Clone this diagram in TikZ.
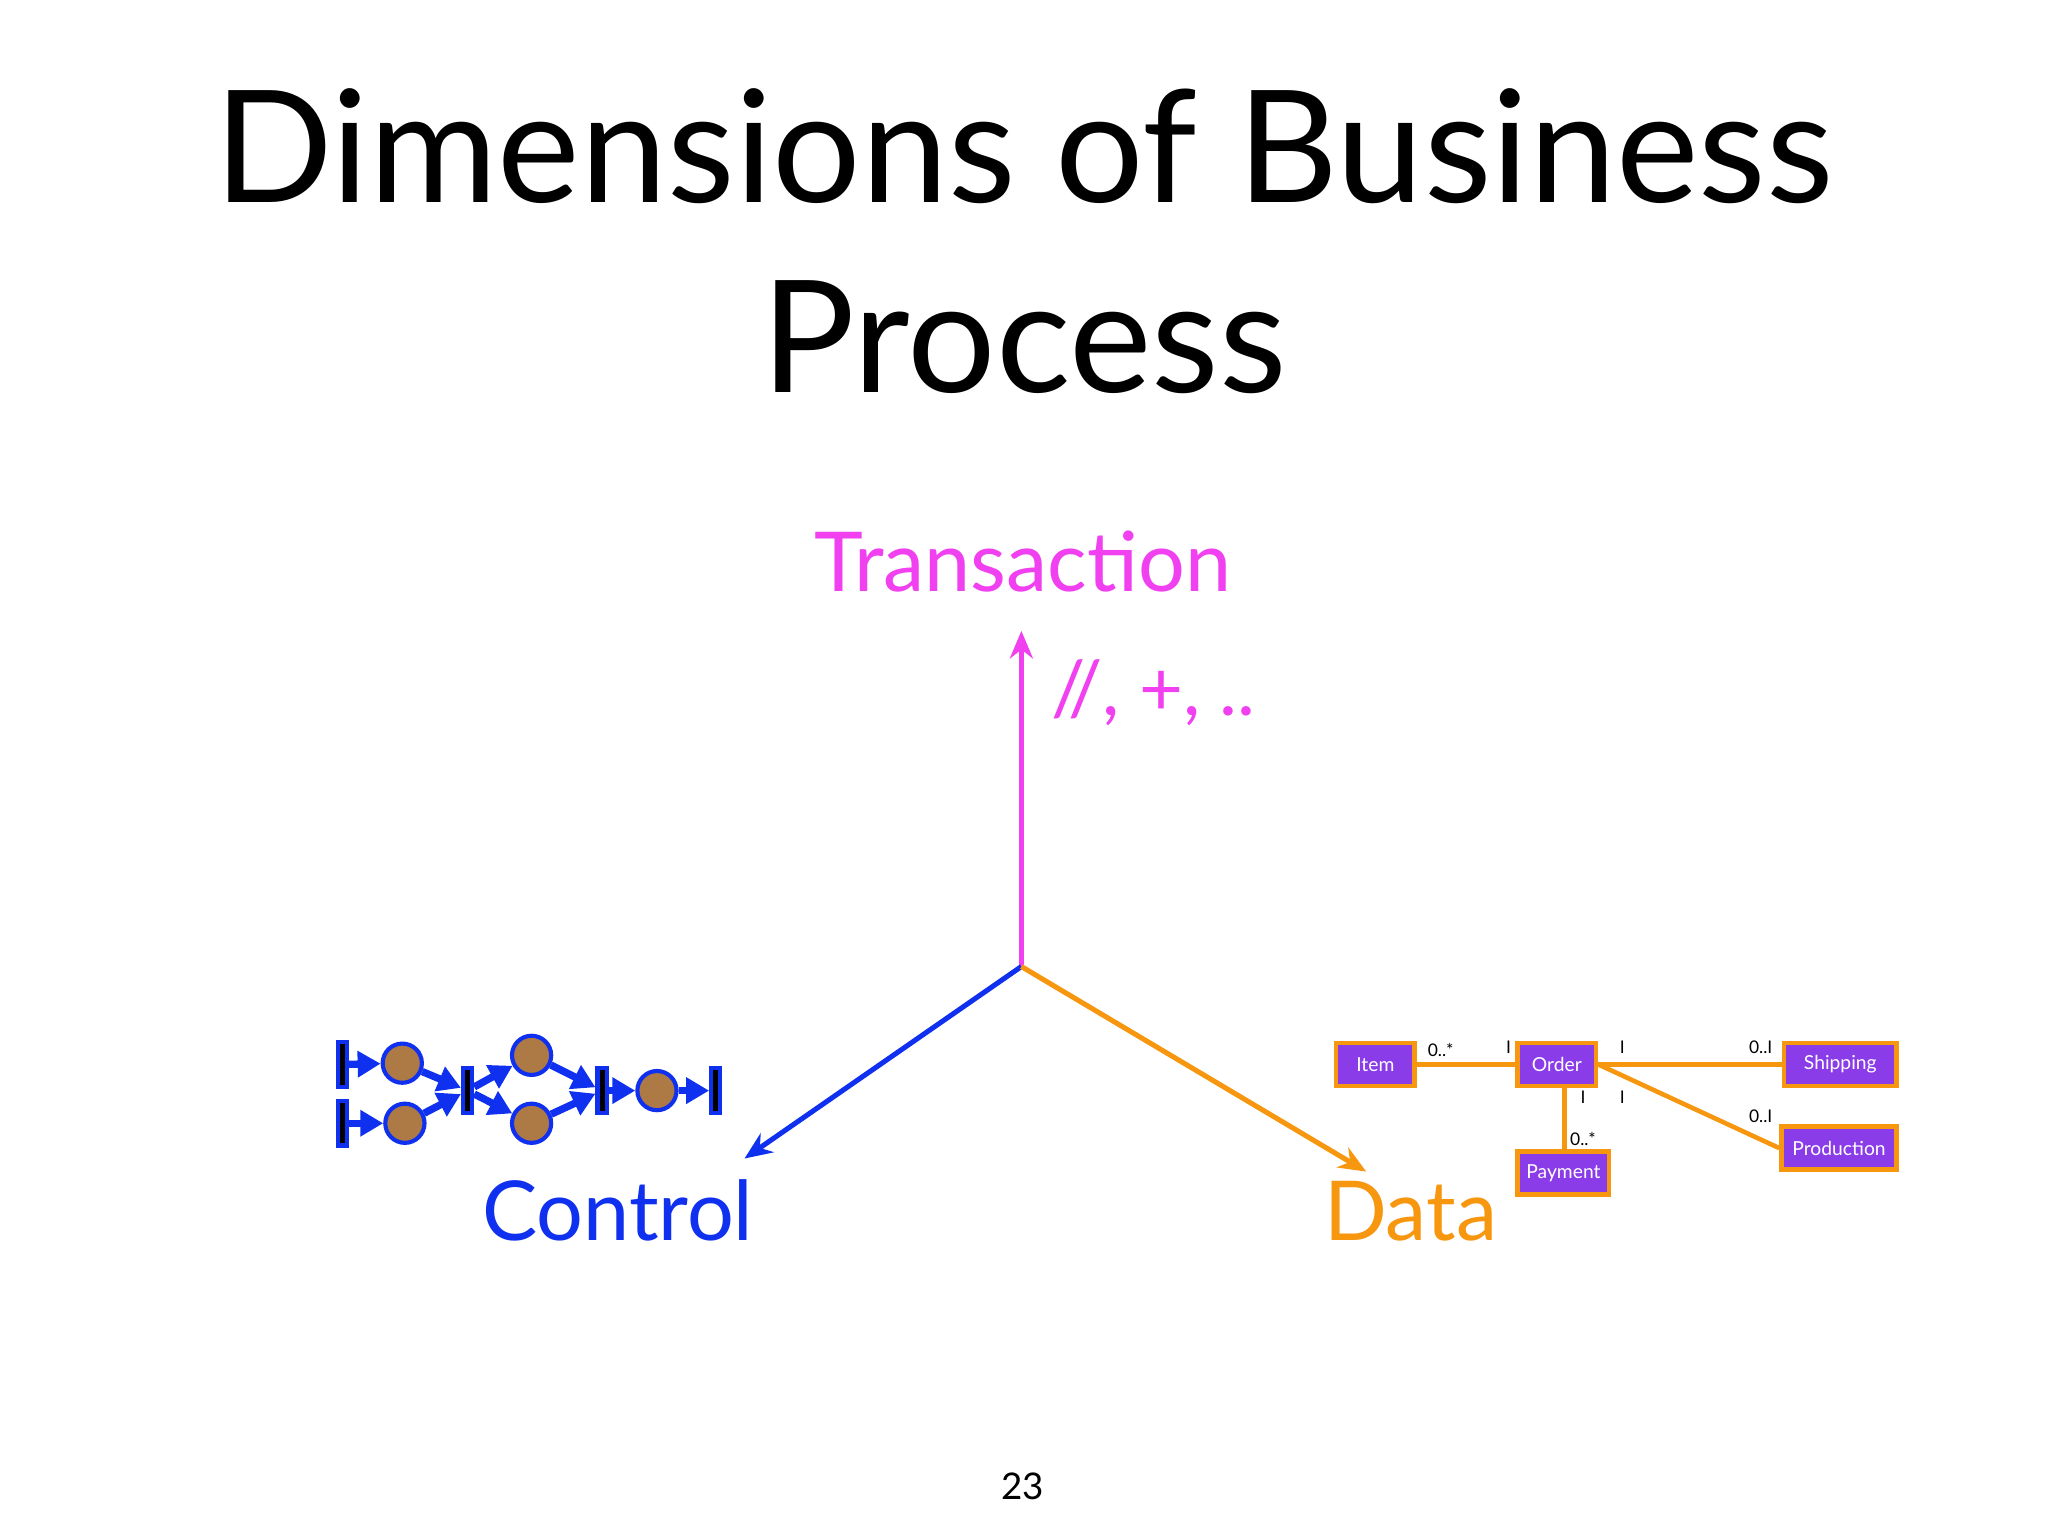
\documentclass[tikz,border=0pt]{standalone}
\usepackage{fontspec}
\setmainfont{Lato}
\usetikzlibrary{arrows.meta}
\definecolor{mag}{HTML}{F040F0}
\definecolor{cblue}{HTML}{1030F0}
\definecolor{corange}{HTML}{F7960F}
\definecolor{cpurple}{HTML}{8A3CE8}
\definecolor{cbrown}{HTML}{AD7A45}
\tikzset{
 place/.style={circle,draw=cblue,fill=cbrown,line width=0.9pt,minimum size=0.3cm,inner sep=0},
 trans/.style={rectangle,draw=cblue,fill=black,line width=0.9pt,minimum width=0.07cm,minimum height=0.34cm,inner sep=0},
 parc/.style={cblue,line width=1.6pt,-{Triangle[length=5pt,width=5.5pt]},shorten >=0pt},
 cls/.style={rectangle,draw=corange,fill=cpurple,line width=1pt,text=white,font=\fontsize{4.2}{5}\selectfont,inner sep=0,minimum height=0.33cm},
 assoc/.style={corange,line width=1pt},
 mult/.style={font=\fontsize{3.8}{4}\selectfont,inner sep=0},
 axis/.style={line width=1.1pt,-{Stealth[length=6pt,width=5pt]}}
}
\begin{document}
\begin{tikzpicture}[x=0.01cm,y=-0.01cm]
\useasboundingbox[fill=white] (0,0) rectangle (1568,1176);
\node (t1) at (784,112) {\fontsize{34}{40}\selectfont Dimensions of Business};
\node (t2) at (784,258) {\fontsize{34}{40}\selectfont Process};
\coordinate (o) at (782,740);
\coordinate (up) at (782,483);
\coordinate (cl) at (570,887);
\coordinate (dr) at (1046,897);
\draw[axis,mag] (o) -- (up);
\draw[axis,cblue] (o) -- (cl);
\draw[axis,corange] (o) -- (dr);
\node[mag] (tr) at (783,430) {\fontsize{18}{22}\selectfont Transaction};
\node[mag] (ops) at (883,530) {\fontsize{16.5}{20}\selectfont //, +, ..};
\node[cblue] (ctl) at (473,927) {\fontsize{18}{22}\selectfont Control};
\node[corange] (dat) at (1080,927) {\fontsize{18}{22}\selectfont Data};
\node (pg) at (783,1138) {\fontsize{8}{9}\selectfont 23};
% petri net
\node[trans] (a1) at (262,815) {};
\node[trans] (a2) at (262,860) {};
\node[place] (p1) at (308,814) {};
\node[place] (p2) at (310,860) {};
\node[trans] (b) at (358,835) {};
\node[place] (p3) at (407,808) {};
\node[place] (p4) at (407,860) {};
\node[trans] (c) at (461,835) {};
\node[place] (p5) at (503,835) {};
\node[trans] (d) at (548,835) {};
\draw[parc] (a1) -- (p1);
\draw[parc] (a2) -- (p2);
\draw[parc] (p1) -- (b);
\draw[parc] (p2) -- (b);
\draw[parc] (b) -- (p3);
\draw[parc] (b) -- (p4);
\draw[parc] (p3) -- (c);
\draw[parc] (p4) -- (c);
\draw[parc] (c) -- (p5);
\draw[parc] (p5) -- (d);
% class diagram
\node[cls,minimum width=0.6cm] (item) at (1053,815) {Item};
\node[cls,minimum width=0.6cm] (order) at (1192,815) {Order};
\node[cls,minimum width=0.86cm] (ship) at (1409,815) {Shipping};
\node[cls,minimum width=0.88cm] (prod) at (1408,879) {Production};
\node[cls,minimum width=0.7cm] (pay) at (1197,898) {Payment};
\draw[assoc] (item) -- (order);
\draw[assoc] (order) -- (ship);
\draw[assoc] (order.east) -- (prod.west);
\draw[assoc] (order.south -| 1198,0) -- (pay.north -| 1198,0);
\node[mult] (m1) at (1103,804) {0..*};
\node[mult] (m2) at (1155,802) {I};
\node[mult] (m3) at (1242,802) {I};
\node[mult] (m4) at (1348,802) {0..I};
\node[mult] (m5) at (1212,840) {I};
\node[mult] (m6) at (1242,840) {I};
\node[mult] (m7) at (1348,855) {0..I};
\node[mult] (m8) at (1212,872) {0..*};
\end{tikzpicture}
\end{document}
